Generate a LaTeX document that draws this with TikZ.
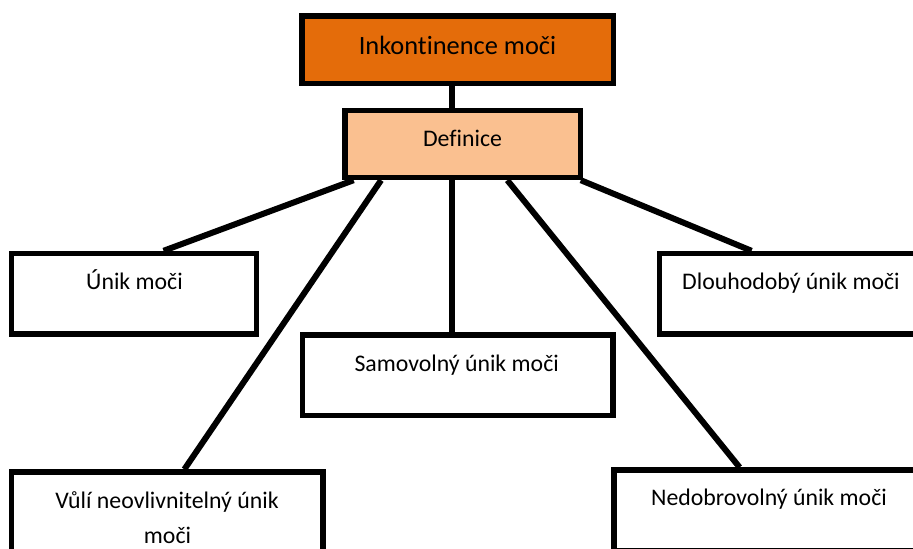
\documentclass[tikz,border=0pt]{standalone}
\usepackage{fontspec}
\setmainfont[Ligatures=NoCommon]{Carlito}
\usetikzlibrary{calc,backgrounds}
\definecolor{inkorange}{HTML}{E46C0A}
\definecolor{defpeach}{HTML}{FAC090}
\tikzset{
  box/.style={draw=black, line width=2.7pt, fill=white, rectangle, inner sep=0pt},
  lbl/.style={anchor=base, inner sep=0pt, font=\fontsize{11.9}{14}\selectfont},
  conn/.style={draw=black, line width=3pt}
}
\begin{document}
\begin{tikzpicture}[x=0.5pt, y=-0.5pt]
  \useasboundingbox (0,0) rectangle (913,548);
  \clip (0,0) rectangle (913,548);

  % boxes
  \node[box, fill=inkorange, minimum width=155.65pt, minimum height=33.65pt] (ink) at (457.65,49.65) {};
  \node[box, fill=defpeach, minimum width=117.75pt, minimum height=33.5pt] (def) at (462.75,144) {};
  \node[box, minimum width=122.5pt, minimum height=40.25pt] (unik) at (134,293.75) {};
  \node[box, minimum width=131.5pt, minimum height=40.25pt] (dlouh) at (791.25,293.75) {};
  \node[box, minimum width=155.25pt, minimum height=40.25pt] (samo) at (457.75,375.25) {};
  \node[box, minimum width=155.75pt, minimum height=40.25pt] (vuli) at (167.25,512.25) {};
  \node[box, minimum width=155.25pt, minimum height=40.25pt] (nedob) at (769.25,510.25) {};

  % labels
  \node[lbl, font=\fontsize{13.2}{16}\selectfont] (inkT) at (457.5,54) {Inkontinence moči};
  \node[lbl] (defT) at (462.5,146) {Definice};
  \node[lbl] (unikT) at (134.5,289) {Únik moči};
  \node[lbl] (dlouhT) at (791,289) {Dlouhodobý únik moči};
  \node[lbl] (samoT) at (456.7,371.7) {Samovolný únik moči};
  \node[lbl] (vuliT1) at (167,508) {Vůlí neovlivnitelný únik};
  \node[lbl] (vuliT2) at (167.5,543) {moči};
  \node[lbl] (nedobT) at (769,505) {Nedobrovolný únik moči};

  % connectors, drawn behind the boxes
  \begin{scope}[on background layer]
    \coordinate (inkout) at ($(ink.south west)!0.4835!(ink.south east)$);
    \coordinate (defout) at ($(def.south west)!0.4565!(def.south east)$);
    \draw[conn] (inkout) -- (inkout |- def.north);
    \draw[conn] (defout) -- (defout |- samo.north);
    \draw[conn] ($(def.south west)!0.047!(def.south east)$) -- ($(unik.north west)!0.618!(unik.north east)$);
    \draw[conn] ($(def.south west)!0.161!(def.south east)$) -- ($(vuli.north west)!0.554!(vuli.north east)$);
    \draw[conn] ($(def.south west)!0.685!(def.south east)$) -- ($(nedob.north west)!0.406!(nedob.north east)$);
    \draw[conn] ($(def.south west)!0.99!(def.south east)$) -- ($(dlouh.north west)!0.352!(dlouh.north east)$);
  \end{scope}
\end{tikzpicture}
\end{document}
